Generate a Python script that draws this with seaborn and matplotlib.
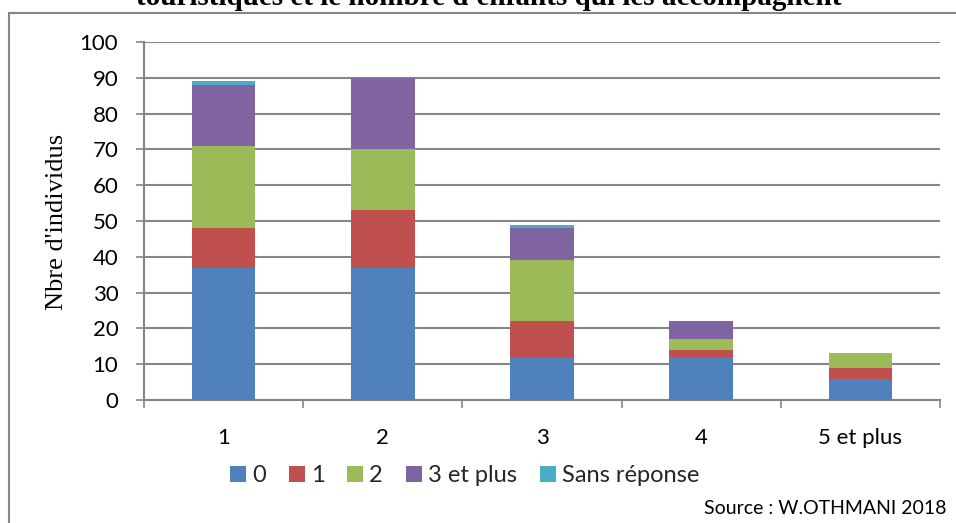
import matplotlib
matplotlib.use("Agg")
import matplotlib.pyplot as plt
from matplotlib.patches import Rectangle
from matplotlib.lines import Line2D
import seaborn as sns
import pandas as pd
import numpy as np

# Number of individuals by group size, stacked by number of accompanying children
categories = ["1", "2", "3", "4", "5 et plus"]
series_names = ["0", "1", "2", "3 et plus", "Sans réponse"]
enfants_0 = [37, 37, 12, 12, 6]
enfants_1 = [11, 16, 10, 2, 3]
enfants_2 = [23, 17, 17, 3, 4]
enfants_3plus = [17, 20, 9, 5, 0]
sans_reponse = [1, 0, 1, 0, 0]
y_ticks = list(range(0, 101, 10))

colors = ["#4F81BD", "#C0504D", "#9BBB59", "#8064A2", "#4BACC6"]
grid_gray = "#868686"

sns.set_theme(style="white")
plt.rcParams["font.family"] = ["Lato", "DejaVu Sans"]

values = [enfants_0, enfants_1, enfants_2, enfants_3plus, sans_reponse]
cum = np.cumsum(np.array(values), axis=0)

W, H = 956, 523
fig = plt.figure(figsize=(W / 100, H / 100), dpi=100)
ax = fig.add_axes([144 / W, (H - 400) / H, (940 - 144) / W, (400 - 42) / H])

# Stacked bars: draw cumulative totals from the top series down
for i in range(len(series_names) - 1, -1, -1):
    df = pd.DataFrame({"cat": categories, "val": cum[i]})
    sns.barplot(data=df, x="cat", y="val", color=colors[i], width=0.4,
                saturation=1, linewidth=0, ax=ax, zorder=3)

ax.set_xlim(-0.5, len(categories) - 0.5)
ax.set_ylim(0, 100)
ax.set_yticks(y_ticks)
ax.yaxis.grid(True, color=grid_gray, linewidth=1.5, zorder=0)
ax.set_axisbelow(True)
for s in ["top", "right"]:
    ax.spines[s].set_visible(False)
for s in ["left", "bottom"]:
    ax.spines[s].set_color(grid_gray)
    ax.spines[s].set_linewidth(1.5)

ax.tick_params(axis="y", which="major", direction="out", length=5.5, width=1.2,
               color=grid_gray, pad=13, labelsize=16, left=True)
ax.tick_params(axis="x", which="major", length=0, pad=20, labelsize=16)
ax.set_xticks(np.arange(-0.5, len(categories), 1.0), minor=True)
ax.tick_params(axis="x", which="minor", direction="out", length=5.5, width=1.2,
               color=grid_gray, bottom=True)
for lab in ax.get_yticklabels() + ax.get_xticklabels():
    lab.set_color("black")

ax.set_xlabel("")
ax.set_ylabel("Nbre d'individus", fontsize=19, family="Liberation Serif",
              labelpad=0, color="black")
ax.yaxis.set_label_coords(68 / W, 1 - 222 / H, transform=fig.transFigure)

# Chart-area frame
fig.patches.append(Rectangle((9 / W, -0.2), 1.2, (H - 13) / H + 0.2,
                             transform=fig.transFigure, fill=False,
                             edgecolor=grid_gray, linewidth=1.5))

fig.text(489 / W, 1 - 5 / H,
         "touristiques et le nombre d'enfants qui les accompagnent",
         ha="center", va="baseline", fontsize=21, fontweight="bold",
         family="Liberation Serif", color="black")

handles = [Line2D([0], [0], marker="s", linestyle="none", markersize=12,
                  markerfacecolor=c, markeredgewidth=0) for c in colors]
fig.legend(handles, series_names, loc="center", ncol=5, frameon=False,
           bbox_to_anchor=(465 / W, 1 - 476 / H), fontsize=17,
           handlelength=0.6, handletextpad=0.3, columnspacing=1.0)

fig.text(946 / W, 1 - 508 / H, "Source : W.OTHMANI 2018", ha="right",
         va="center", fontsize=14, color="black")

fig.savefig("out.png", dpi=100)
